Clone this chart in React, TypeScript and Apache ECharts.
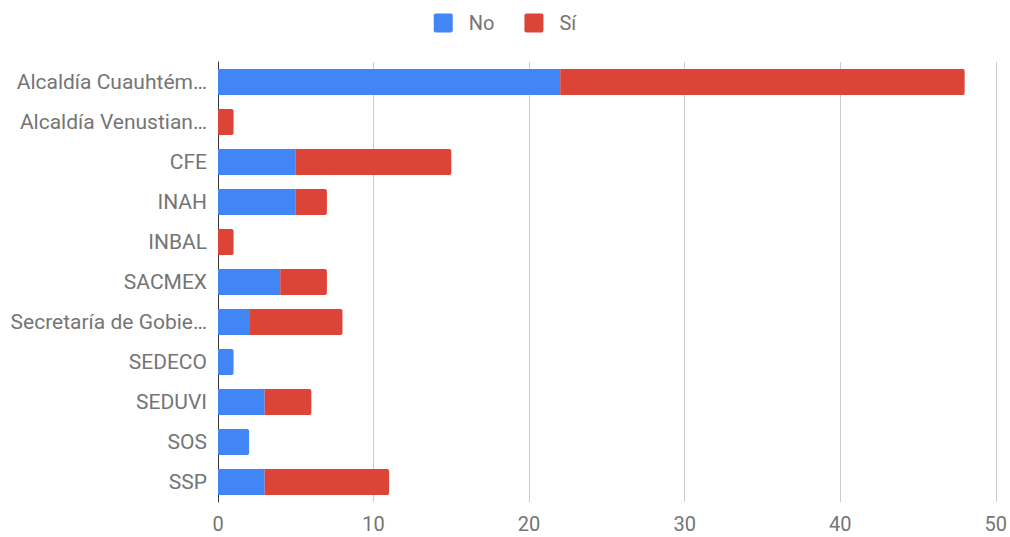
import React, { useEffect, useRef } from "react";
import * as echarts from "echarts";

const categories = [
  "Alcaldía Cuauhtém…",
  "Alcaldía Venustian…",
  "CFE",
  "INAH",
  "INBAL",
  "SACMEX",
  "Secretaría de Gobie…",
  "SEDECO",
  "SEDUVI",
  "SOS",
  "SSP",
];
const noValues = [22, 0, 5, 5, 0, 4, 2, 1, 3, 2, 3];
const siValues = [26, 1, 10, 2, 1, 3, 6, 0, 3, 0, 8];
const xTicks = [0, 10, 20, 30, 40, 50];

const BLUE = "#4285F4";
const RED = "#DB4437";
const TEXT = "#757575";

export default function App() {
  const ref = useRef<HTMLDivElement>(null);
  useEffect(() => {
    if (!ref.current) return;
    const chart = echarts.init(ref.current, undefined, { renderer: "svg" });
    const noData = noValues.map((v, i) => ({
      value: v,
      itemStyle: { borderRadius: siValues[i] === 0 ? [0, 2, 2, 0] : 0 },
    }));
    const siData = siValues.map((v) => ({
      value: v,
      itemStyle: { borderRadius: [0, 2, 2, 0] },
    }));
    chart.setOption({
      animation: false,
      textStyle: { fontFamily: "Roboto" },
      legend: {
        top: 8,
        left: "center",
        itemWidth: 19,
        itemHeight: 19,
        itemGap: 30,
        icon: "path://M2,0 L17,0 Q19,0 19,2 L19,17 Q19,19 17,19 L2,19 Q0,19 0,17 L0,2 Q0,0 2,0 Z",
        textStyle: { color: TEXT, fontSize: 20, fontFamily: "Roboto", padding: [0, 0, 0, 11] },
        data: ["No", "Sí"],
      },
      grid: { left: 218, right: 14, top: 62, bottom: 35, containLabel: false },
      xAxis: {
        type: "value",
        min: xTicks[0],
        max: xTicks[xTicks.length - 1],
        interval: 10,
        axisLine: { show: false },
        axisTick: { show: false },
        splitLine: { show: true, lineStyle: { color: "#cccccc", width: 1 } },
        axisLabel: { color: TEXT, fontSize: 20, fontFamily: "Roboto", margin: 12 },
      },
      yAxis: {
        type: "category",
        inverse: true,
        data: categories,
        axisLine: { show: true, onZero: false, lineStyle: { color: "#333333", width: 1 } },
        axisTick: { show: false },
        splitLine: { show: false },
        axisLabel: { color: TEXT, fontSize: 21, fontFamily: "Roboto", margin: 11 },
      },
      series: [
        {
          name: "No",
          type: "bar",
          stack: "total",
          barWidth: "65%",
          itemStyle: { color: BLUE },
          data: noData,
        },
        {
          name: "Sí",
          type: "bar",
          stack: "total",
          barWidth: "65%",
          itemStyle: { color: RED },
          data: siData,
        },
      ],
    });
    return () => chart.dispose();
  }, []);
  return <div ref={ref} style={{ width: 1010, height: 537, position: "absolute", left: 0, top: 0 }} />;
}
